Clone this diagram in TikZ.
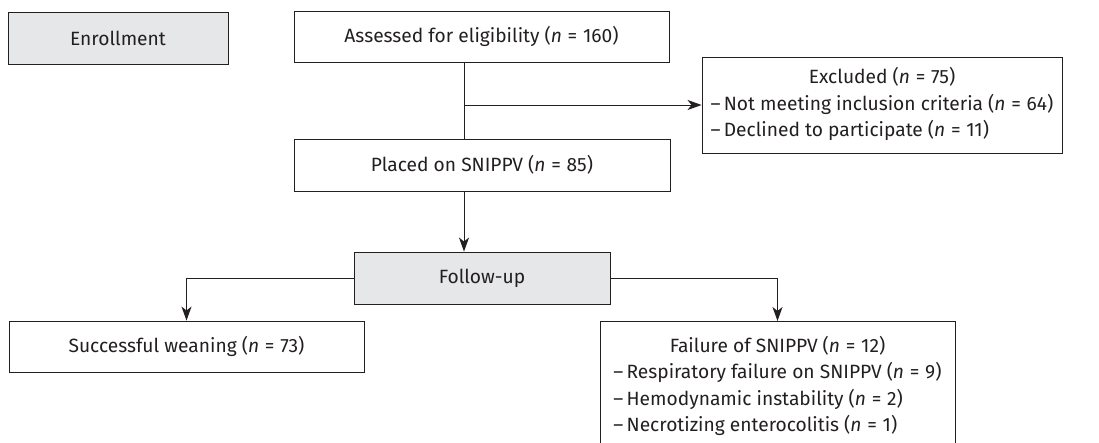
\documentclass[tikz,border=0pt]{standalone}
\usepackage{fontspec}
\setmainfont{Fira Sans}
\usetikzlibrary{arrows.meta,calc}
\definecolor{boxgray}{HTML}{E6E7E8}
\definecolor{ink}{HTML}{231F20}
\newcommand{\nval}[1]{(\textit{n}\hspace{0.3em}=\hspace{0.3em}#1)}
\begin{document}
\begin{tikzpicture}[x=1pt,y=-1pt,
  box/.style={draw=ink,line width=0.9pt,text=ink,inner sep=0pt,align=center,
    font=\fontsize{19.2}{26.5}\selectfont},
  graybox/.style={box,fill=boxgray},
  conn/.style={draw=ink,line width=0.9pt},
  arr/.style={conn,-{Stealth[length=14pt,width=10pt,inset=4pt]}}]
\useasboundingbox (0,0) rectangle (1099,443);
\node[graybox,minimum width=220pt,minimum height=52pt] (enroll) at (118,38) {Enrollment};
\node[box,minimum width=375pt,minimum height=51pt] (assess) at (481.5,36.5) {Assessed for eligibility \nval{160}};
\node[box,minimum width=360pt,minimum height=96pt] (excl) at (882,105)
  {\begin{tabular}{@{}l@{}}\multicolumn{1}{@{}c@{}}{Excluded \nval{75}}\\
  –\,Not meeting inclusion criteria \nval{64}\\
  –\,Declined to participate \nval{11}\end{tabular}};
\node[box,minimum width=376pt,minimum height=52pt] (placed) at (482,165) {Placed on SNIPPV \nval{85}};
\node[graybox,minimum width=256pt,minimum height=52pt] (follow) at (482,278) {Follow-up};
\node[box,minimum width=355pt,minimum height=51pt] (success) at (186.5,346.5) {Successful weaning \nval{73}};
\node[box,minimum width=355pt,minimum height=130pt,anchor=north] (fail) at (777.5,321)
  {\begin{tabular}{@{}l@{}}\multicolumn{1}{@{}c@{}}{Failure of SNIPPV \nval{12}}\\
  –\,Respiratory failure on SNIPPV \nval{9}\\
  –\,Hemodynamic instability \nval{2}\\
  –\,Necrotizing enterocolitis \nval{1}\end{tabular}};
\coordinate (spine) at (464,105);
\draw[conn] (assess.south -| spine) -- (placed.north -| spine);
\draw[arr] (spine) -- (excl.west);
\draw[arr] (placed.south -| spine) -- (follow.north -| spine);
\draw[arr] (follow.west) -| (success.north);
\draw[arr] (follow.east) -| (fail.north);
\end{tikzpicture}
\end{document}
